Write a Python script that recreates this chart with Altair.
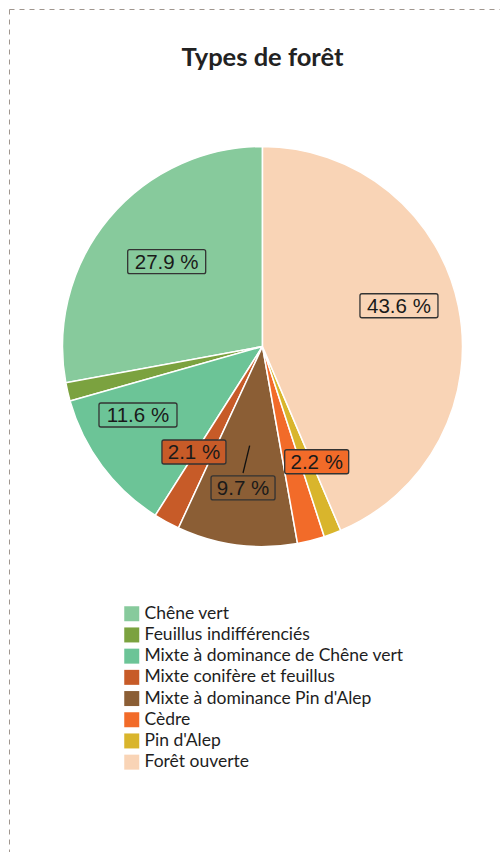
import altair as alt
import pandas as pd

# ---------------- data ----------------
categories = [
    "Chêne vert",
    "Feuillus indifférenciés",
    "Mixte à dominance de Chêne vert",
    "Mixte conifère et feuillus",
    "Mixte à dominance Pin d'Alep",
    "Cèdre",
    "Pin d'Alep",
    "Forêt ouverte",
]
shares = [27.9, 1.5, 11.6, 2.1, 9.7, 2.2, 1.4, 43.6]
labels = ["27.9 %", "", "11.6 %", "2.1 %", "9.7 %", "2.2 %", "", "43.6 %"]
colors = ["#87ca9c", "#7ba23f", "#6cc497", "#c75b28", "#8b5e35", "#f26b29", "#d9b52c", "#f9d4b6"]

# ---------------- layout ----------------
W, H = 500, 852
CX, CY, R = 262.5, 346.5, 200
LR = 136  # label radius
# small label-placement adjustments (collision avoidance of the original)
nudge_x = [8.7, 0, -15.5, -3.4, -2, 21.2, 0, 3.2]
nudge_y = [2.2, 0, -12.8, -13.9, 6.6, -16.7, 0, -13.6]

n = len(categories)
df = pd.DataFrame({
    "category": categories,
    "share": shares,
    "label": labels,
    "order": [n - 1 - i for i in range(n)],  # clockwise from top: Forêt ouverte first
    "nx": nudge_x,
    "ny": nudge_y,
})

color = alt.Color(
    "category:N",
    scale=alt.Scale(domain=categories, range=colors),
    sort=categories,
    legend=alt.Legend(
        title=None,
        orient="none",
        legendX=123,
        legendY=605,
        symbolType="square",
        symbolSize=225,
        symbolStrokeWidth=0,
        symbolOpacity=1,
        labelFont="Lato",
        labelFontSize=17.5,
        labelColor="#1e1e1e",
        labelOffset=4,
        rowPadding=2.2,
        padding=0,
        labelLimit=400,
    ),
)

base = alt.Chart(df)

pie = base.mark_arc(outerRadius=R, stroke="white", strokeWidth=1.5).encode(
    theta=alt.Theta("share:Q", stack=True),
    order=alt.Order("order:Q", sort="ascending"),
    color=color,
    x=alt.value(CX),
    y=alt.value(CY),
)

lab = (
    base.transform_window(
        cum="sum(share)", sort=[alt.SortField("order")], frame=[None, 0]
    )
    .transform_joinaggregate(total="sum(share)")
    .transform_calculate(
        ang="(datum.cum - datum.share / 2) / datum.total * 2 * PI",
    )
    .transform_calculate(
        lx=f"{CX} + {LR} * sin(datum.ang) + datum.nx",
        ly=f"{CY} - {LR} * cos(datum.ang) + datum.ny",
        ax=f"{CX} + 100 * sin(datum.ang)",
        ay=f"{CY} - 100 * cos(datum.ang)",
        bw="length(datum.label) * 14 - 6",
    )
    .transform_calculate(
        x1="datum.lx - datum.bw / 2",
        x2="datum.lx + datum.bw / 2",
        y1="datum.ly - 12",
        y2="datum.ly + 12",
        ly2="datum.ly - 15",
    )
)

boxes = lab.transform_filter("datum.label != ''").mark_rect(
    cornerRadius=2, stroke="#333333", strokeWidth=1.3
).encode(
    x=alt.X("x1:Q", scale=None, axis=None),
    x2="x2:Q",
    y=alt.Y("y1:Q", scale=None, axis=None),
    y2="y2:Q",
    color=alt.Color("category:N", scale=alt.Scale(domain=categories, range=colors), legend=None),
)

leader = lab.transform_filter("datum.label == '9.7 %'").mark_rule(
    color="#111111", strokeWidth=1.3
).encode(
    x=alt.X("ax:Q", scale=None, axis=None),
    y=alt.Y("ay:Q", scale=None, axis=None),
    x2="lx:Q",
    y2="ly2:Q",
)

texts = lab.transform_filter("datum.label != ''").mark_text(
    font="Liberation Sans", fontSize=20.5, color="#1a1a1a", align="center", baseline="middle", dy=1
).encode(
    x=alt.X("lx:Q", scale=None, axis=None),
    y=alt.Y("ly:Q", scale=None, axis=None),
    text="label:N",
)

one = pd.DataFrame({"k": [0]})

title = alt.Chart(one).mark_text(
    text="Types de forêt", font="Lato", fontSize=25.5, fontWeight="bold",
    color="#222222", align="center", baseline="alphabetic"
).encode(x=alt.value(CX), y=alt.value(66))

border_h = alt.Chart(one).mark_rule(
    color="#a0968e", strokeWidth=1, strokeDash=[5, 5]
).encode(x=alt.value(9.5), x2=alt.value(W + 5), y=alt.value(9.5))

border_v = alt.Chart(one).mark_rule(
    color="#a0968e", strokeWidth=1, strokeDash=[5, 5]
).encode(x=alt.value(9.5), y=alt.value(9.5), y2=alt.value(H + 5))

chart = alt.layer(border_h, border_v, title, pie, leader, boxes, texts).properties(
    width=W,
    height=H,
    padding=0,
    autosize=alt.AutoSizeParams(type="none"),
    background="white",
).configure_view(strokeWidth=0)

chart.save("out.html", embed_options={"renderer": "svg", "actions": False})
